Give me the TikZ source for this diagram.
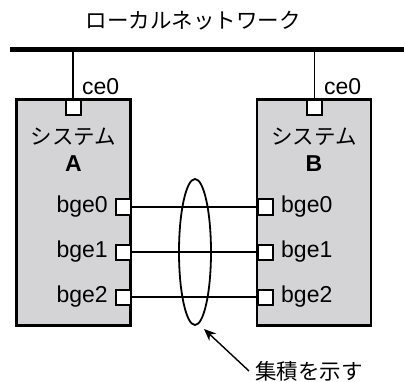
\documentclass[tikz,border=0pt]{standalone}
\usepackage{fontspec}
\setmainfont{Liberation Sans}
\newfontfamily\jp{Noto Sans CJK JP}
\usetikzlibrary{arrows.meta}
\definecolor{boxgray}{HTML}{D4D4D6}
\begin{document}
\begin{tikzpicture}[x=1pt,y=-1pt,
  sysbox/.style={draw=black,line width=2.2pt,fill=boxgray,inner sep=0pt},
  port/.style={draw=black,line width=2pt,fill=white,minimum size=15pt,inner sep=0pt},
  lbl/.style={font=\fontsize{23}{25}\selectfont,inner sep=0pt},
  jlbl/.style={font=\fontsize{21.5}{24}\selectfont\jp,inner sep=0pt},
  wire/.style={line width=1.8pt}]
\useasboundingbox (0,0) rectangle (404,382);
% title and bus
\node[jlbl] (title) at (193,21) {ローカルネットワーク};
\coordinate (busL) at (10,50);
\coordinate (busR) at (404,50);
\draw[line width=5pt] (busL) -- (busR);
% boxes
\node[sysbox,minimum width=114pt,minimum height=226pt] (boxA) at (73.5,212.5) {};
\node[sysbox,minimum width=114pt,minimum height=226pt] (boxB) at (314,212.5) {};
% ce0 ports
\coordinate (busA) at (73,50);
\coordinate (busB) at (314.5,50);
\node[port] (ceA) at (73,107.5) {};
\node[port] (ceB) at (314.5,107.5) {};
\draw[wire] (busA) -- (ceA.north);
\draw[wire] (busB) -- (ceB.north);
\node[lbl,anchor=west] (ceAl) at (82,87) {ce0};
\node[lbl,anchor=west] (ceBl) at (324,87) {ce0};
% system labels
\node[jlbl] (sysA) at (73.5,137) {システム};
\node[lbl,font=\fontsize{23}{25}\selectfont\bfseries] (nameA) at (73.5,164) {A};
\node[jlbl] (sysB) at (314,137) {システム};
\node[lbl,font=\fontsize{23}{25}\selectfont\bfseries] (nameB) at (314,164) {B};
% bge ports
\foreach \i/\y in {0/207,1/252,2/297}{
  \node[port] (pA\i) at (123,\y) {};
  \node[port] (pB\i) at (265,\y) {};
  \node[lbl,anchor=east] (lA\i) at (108,\y) {bge\i};
  \node[lbl,anchor=west] (lB\i) at (281,\y) {bge\i};
  \draw[wire] (pA\i.east) -- (pB\i.west);
}
% aggregation ellipse
\draw[wire] (195,252) ellipse [x radius=16, y radius=73];
\coordinate (ellB) at (204,329);
\coordinate (arrS) at (249,371);
\draw[line width=1.4pt,-{Stealth[length=12pt,width=10pt]}] (arrS) -- (ellB);
\node[jlbl,anchor=west] (agg) at (255,371) {集積を示す};
\end{tikzpicture}
\end{document}
